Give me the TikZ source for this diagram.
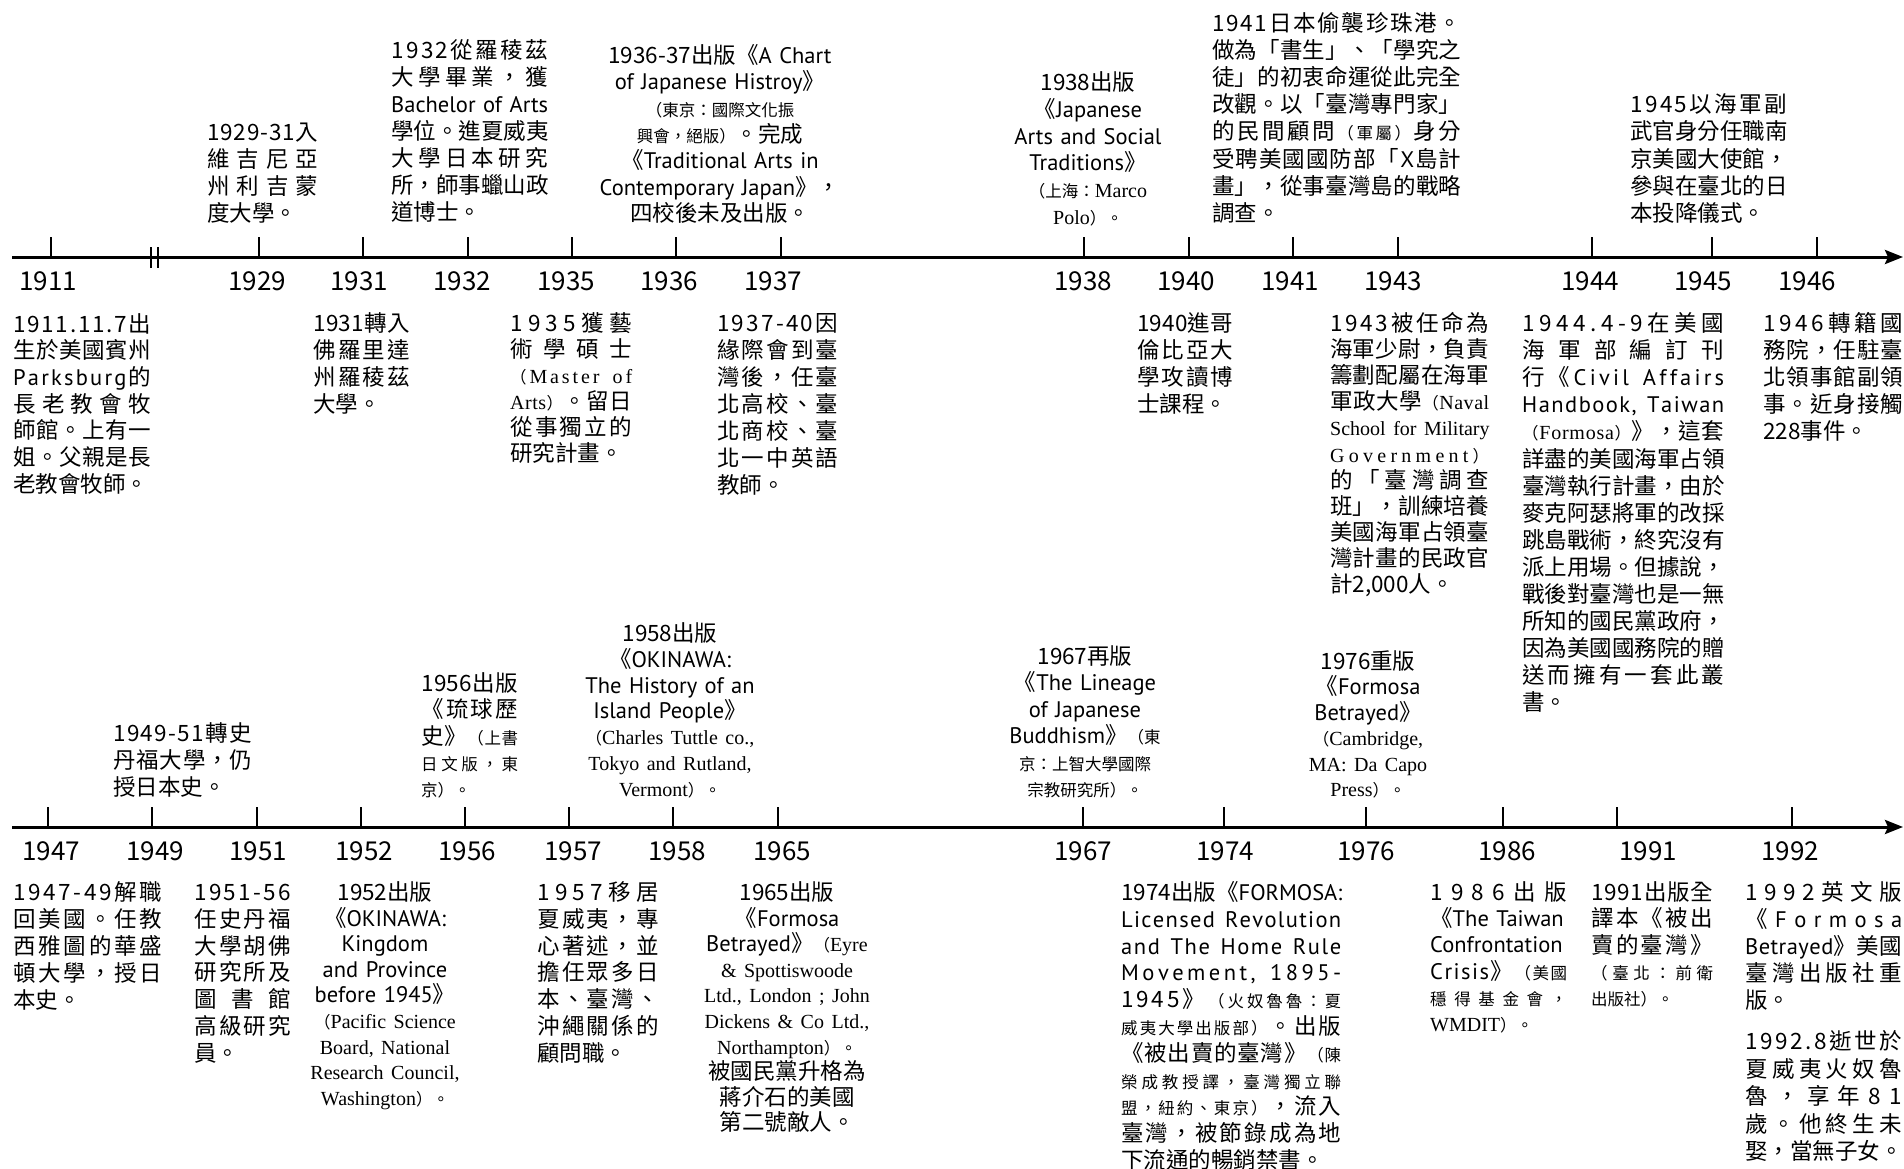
\documentclass[tikz,border=0pt]{standalone}
\usepackage{fontspec}
\setmainfont{Noto Sans CJK TC}
\newfontfamily\serifL{Liberation Serif}
\newfontfamily\latf{PT Sans}
\usetikzlibrary{arrows.meta}
\newcommand\nrm{\normalfont\fontsize{22.5}{27}\selectfont}
\newcommand\smc{\normalfont\fontsize{16.5}{24}\selectfont}
\newcommand\ser{\serifL\fontsize{20}{24}\selectfont}
\makeatletter
\def\spr@end{\spr@end}
\newif\ifspr@started
\newif\ifspr@is
\newcommand\SP[1]{\leavevmode\hbox to\linewidth{\spr@startedfalse\spr@B#1\spr@end}}
\def\spr@B#1{%
  \ifx\spr@end#1\let\spr@next\relax
  \else
    \let\spr@next\spr@B
    \spr@isfalse
    \ifx\smc#1\spr@istrue\fi
    \ifx\ser#1\spr@istrue\fi
    \ifx\nrm#1\spr@istrue\fi
    \ifx\latf#1\spr@istrue\fi
    \ifspr@is #1\else\ifspr@started\hfil\fi #1\spr@startedtrue\fi
  \fi
  \spr@next}
\makeatother
\newcommand\JL[1]{\leavevmode\makebox[\linewidth][s]{#1}}
\begin{document}
\begin{tikzpicture}[x=1pt,y=-1pt,
  axis/.style={line width=3pt},
  tick/.style={line width=2.8pt},
  yr/.style={inner sep=0pt, anchor=base, font=\fontsize{26}{30}\selectfont},
  txt/.style 2 args={inner sep=0pt, anchor=base west, text width=#1pt, align=left, font=\fontsize{22.5}{#2}\selectfont},
  ctr/.style={inner sep=0pt, anchor=base, text width=300pt, align=center, font=\fontsize{22.5}{#1}\selectfont},
]
\fill[white] (0,0) rectangle (1904,1168);
\useasboundingbox (0,0) rectangle (1904,1168);

% axes
\draw[axis,-{Stealth[length=18pt,width=14pt,inset=3pt]}] (12,257) -- (1903,257);
\draw[axis,-{Stealth[length=18pt,width=14pt,inset=3pt]}] (12,827) -- (1903,827);
\draw[tick] (151,247) -- (151,268) (158,247) -- (158,268);
\foreach \x in {51,259,363,468,572,676,781,1084,1189,1293,1398,1592,1712,1817}
  \draw[tick] (\x,237) -- (\x,257);
\foreach \x in {48,152,257,361,465,569,673,778,1083,1224,1366,1503,1617,1792}
  \draw[tick] (\x,807) -- (\x,827);

% year labels
\foreach \yy/\x in {1911/48,1929/257,1931/359,1932/462,1935/566,1936/669,1937/773,1938/1083,1940/1186,1941/1290,1943/1393,1944/1590,1945/1703,1946/1807}
  \node[yr] (yt\yy) at (\x,290) {\yy};
\foreach \yy/\x in {1947/51,1949/155,1951/258,1952/364,1956/467,1957/573,1958/677,1965/782,1967/1083,1974/1225,1976/1366,1986/1507,1991/1648,1992/1790}
  \node[yr] (yb\yy) at (\x,860) {\yy};

% ---- upper timeline, above the axis
\node[txt={111}{27}] (a1929) at (207,140.5) {\SP{1929-31入}\\ \SP{維吉尼亞}\\ \SP{州利吉蒙}\\ 度大學。};
\node[txt={157}{27}] (a1932) at (391,58.5) {\SP{1932從羅稜茲}\\ \SP{大學畢業，獲}\\ \JL{\latf Bachelor of Arts}\\ \SP{學位。進夏威夷}\\ \SP{大學日本研究}\\ \SP{所，師事蠟山政}\\ 道博士。};
\node[ctr=26.3] (a1936) at (720,63.5) {1936-37出版《{\latf A Chart}\\ {\latf of Japanese Histroy}》\\ {\smc （東京：國際文化振}\\ {\smc 興會，絕版）}。完成\\ 《{\latf Traditional Arts in}\\ {\latf Contemporary Japan}》，\\ 四校後未及出版。};
\node[ctr=26.8] (a1938) at (1088,90.5) {1938出版\\ 《{\latf Japanese}\\ {\latf Arts and Social}\\ {\latf Traditions}》\\ {\smc （上海：}{\ser Marco}\\ {\ser Polo}{\smc ）。}};
\node[txt={249}{27.1}] (a1941) at (1212,31.5) {\SP{1941日本偷襲珍珠港。}\\ \SP{做為「書生」、「學究之}\\ \SP{徒」的初衷命運從此完全}\\ \SP{改觀。以「臺灣專門家」}\\ \SP{的民間顧問\smc （軍屬）\nrm 身分}\\ \SP{受聘美國國防部「\latf X\nrm 島計}\\ \SP{畫」，從事臺灣島的戰略}\\ 調查。};
\node[txt={157}{27.25}] (a1945) at (1630,112.5) {\SP{1945以海軍副}\\ \SP{武官身分任職南}\\ \SP{京美國大使館，}\\ \SP{參與在臺北的日}\\ 本投降儀式。};

% ---- upper timeline, below the axis
\node[txt={138}{26.7}] (b1911) at (13,332) {\SP{1911.11.7出}\\ \SP{生於美國賓州}\\ \SP{\latf Parksburg\nrm 的}\\ \SP{長老教會牧}\\ \SP{師館。上有一}\\ \SP{姐。父親是長}\\ 老教會牧師。};
\node[txt={97}{27}] (b1931) at (313,331.5) {\SP{1931轉入}\\ \SP{佛羅里達}\\ \SP{州羅稜茲}\\ 大學。};
\node[txt={122}{26}] (b1935) at (510,331.5) {\SP{1935獲藝}\\ \SP{術學碩士}\\ \SP{\smc （\ser Master\ of}\\ \SP{\ser Arts\smc ）\nrm 。留日}\\ \SP{從事獨立的}\\ 研究計畫。};
\node[txt={121}{27}] (b1937) at (717,331.5) {\SP{1937-40因}\\ \SP{緣際會到臺}\\ \SP{灣後，任臺}\\ \SP{北高校、臺}\\ \SP{北商校、臺}\\ \SP{北一中英語}\\ 教師。};
\node[txt={96}{27}] (b1940) at (1137,331.5) {\SP{1940進哥}\\ \SP{倫比亞大}\\ \SP{學攻讀博}\\ 士課程。};
\node[txt={159}{26.1}] (b1943) at (1330,331.5) {\SP{1943被任命為}\\ \SP{海軍少尉，負責}\\ \SP{籌劃配屬在海軍}\\ \SP{軍政大學\smc （\ser Naval}\\ \JL{\ser School for Military}\\ \SP{\ser Government\smc ）}\\ \SP{的「臺灣調查}\\ \SP{班」，訓練培養}\\ \SP{美國海軍占領臺}\\ \SP{灣計畫的民政官}\\ 計2,000人。};
\node[txt={202}{27.1}] (b1944) at (1522,331.5) {\SP{1944.4-9在美國}\\ \SP{海軍部編訂刊}\\ \SP{行《\latf Civil\ Affairs}\\ \SP{\latf Handbook,\ Taiwan}\\ \SP{\smc （\ser Formosa\smc ）\nrm 》，這套}\\ \SP{詳盡的美國海軍占領}\\ \SP{臺灣執行計畫，由於}\\ \SP{麥克阿瑟將軍的改採}\\ \SP{跳島戰術，終究沒有}\\ \SP{派上用場。但據說，}\\ \SP{戰後對臺灣也是一無}\\ \SP{所知的國民黨政府，}\\ \SP{因為美國國務院的贈}\\ \SP{送而擁有一套此叢}\\ 書。};
\node[txt={140}{27}] (b1946) at (1763,331.5) {\SP{1946轉籍國}\\ \SP{務院，任駐臺}\\ \SP{北領事館副領}\\ \SP{事。近身接觸}\\ 228事件。};

% ---- lower timeline, above the axis
\node[txt={139}{27}] (c1949) at (113,741.5) {\SP{1949-51轉史}\\ \SP{丹福大學，仍}\\ 授日本史。};
\node[txt={97}{26.25}] (c1956) at (421,691.5) {\SP{1956出版}\\ \SP{《琉球歷}\\ \SP{史》\smc （上書}\\ \SP{\smc 日文版，東}\\ {\smc 京）。}};
\node[ctr=25.8] (c1958) at (670,641.5) {1958出版\\ 《{\latf OKINAWA:}\\ {\latf The History of an}\\ {\latf Island People}》\\ {\smc （}{\ser Charles Tuttle co.,}\\ {\ser Tokyo and Rutland,}\\ {\ser Vermont}{\smc ）。}};
\node[ctr=26.4] (c1967) at (1085,664.5) {1967再版\\ 《{\latf The Lineage}\\ {\latf of Japanese}\\ {\latf Buddhism}》{\smc （東}\\ {\smc 京：上智大學國際}\\ {\smc 宗教研究所）。}};
\node[ctr=25.4] (c1976) at (1368,669.5) {1976重版\\ 《{\latf Formosa}\\ {\latf Betrayed}》\\ {\smc （}{\ser Cambridge,}\\ {\ser MA: Da Capo}\\ {\ser Press}{\smc ）。}};

% ---- lower timeline, below the axis
\node[txt={149}{27}] (d1947) at (13,900.5) {\SP{1947-49解職}\\ \SP{回美國。任教}\\ \SP{西雅圖的華盛}\\ \SP{頓大學，授日}\\ 本史。};
\node[txt={97}{26.8}] (d1951) at (194,900.5) {\SP{1951-56}\\ \SP{任史丹福}\\ \SP{大學胡佛}\\ \SP{研究所及}\\ \SP{圖書館}\\ \SP{高級研究}\\ 員。};
\node[ctr=25.6] (d1952) at (385,900.5) {1952出版\\ 《{\latf OKINAWA:}\\ {\latf Kingdom}\\ {\latf and Province}\\ {\latf before 1945}》\\ {\smc （}{\ser Pacific Science}\\ {\ser Board, National}\\ {\ser Research Council,}\\ {\ser Washington}{\smc ）。}};
\node[txt={122}{26.8}] (d1957) at (537,900.5) {\SP{1957移居}\\ \SP{夏威夷，專}\\ \SP{心著述，並}\\ \SP{擔任眾多日}\\ \SP{本、臺灣、}\\ \SP{沖繩關係的}\\ 顧問職。};
\node[ctr=25.6] (d1965) at (787,900.5) {1965出版\\ 《{\latf Formosa}\\ {\latf Betrayed}》{\smc （}{\ser Eyre}\\ {\ser \& Spottiswoode}\\ {\ser Ltd., London ; John}\\ {\ser Dickens \& Co Ltd.,}\\ {\ser Northampton}{\smc ）。}\\ 被國民黨升格為\\ 蔣介石的美國\\ 第二號敵人。};
\node[txt={220}{26.8}] (d1974) at (1121,900.5) {\SP{1974出版《\latf FORMOSA:}\\ \SP{\latf Licensed\ Revolution}\\ \SP{\latf and\ The\ Home\ Rule}\\ \SP{\latf Movement,\ 1895-}\\ \SP{1945》\smc （火奴魯魯：夏}\\ \SP{\smc 威夷大學出版部）\nrm 。出版}\\ \SP{《被出賣的臺灣》\smc （陳}\\ \SP{\smc 榮成教授譯，臺灣獨立聯}\\ \SP{\smc 盟，紐約、東京）\nrm ，流入}\\ \SP{臺灣，被節錄成為地}\\ 下流通的暢銷禁書。};
\node[txt={137}{26.2}] (d1986) at (1430,900.5) {\SP{1986出版}\\ \JL{《\latf The Taiwan}\\ {\latf Confrontation}\\ \SP{\latf Crisis\nrm 》\smc （美國}\\ \SP{\smc 穩得基金會，}\\ {\ser WMDIT}{\smc ）。}};
\node[txt={122}{26.25}] (d1991) at (1591,900.5) {\SP{1991出版全}\\ \SP{譯本《被出}\\ \SP{賣的臺灣》}\\ \SP{\smc （臺北：前衛}\\ {\smc 出版社）。}};
\node[txt={157}{27}] (d1992a) at (1745,900.5) {\SP{1992英文版}\\ \SP{《\latf Formosa}\\ \SP{\latf Betrayed\nrm 》美國}\\ \SP{臺灣出版社重}\\ 版。};
\node[txt={157}{27.5}] (d1992b) at (1745,1049.5) {\SP{1992.8逝世於}\\ \SP{夏威夷火奴魯}\\ \SP{魯，享年81}\\ \SP{歲。他終生未}\\ 娶，當無子女。};
\end{tikzpicture}
\end{document}
